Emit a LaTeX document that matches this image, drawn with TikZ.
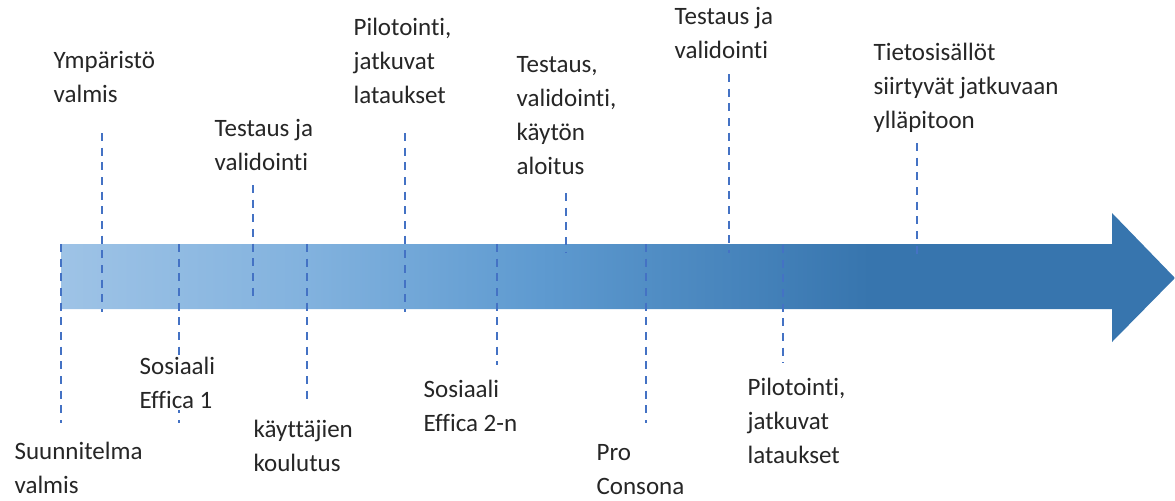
\documentclass[tikz,border=0pt]{standalone}
\usepackage{fontspec}
\setmainfont{Carlito}[Ligatures=NoCommon]
\definecolor{tlLight}{HTML}{9EC3E6}
\definecolor{tlPale}{HTML}{82B2DE}
\definecolor{tlMid}{HTML}{5E9AD0}
\definecolor{tlDark}{HTML}{3775AE}
\definecolor{markblue}{HTML}{4472C4}
\definecolor{textgray}{HTML}{262626}
\pgfdeclarehorizontalshading{timelinefade}{100bp}{color(0bp)=(tlLight); color(25bp)=(tlLight); color(36bp)=(tlPale); color(46.5bp)=(tlMid); color(61.3bp)=(tlDark); color(100bp)=(tlDark)}
\begin{document}
\begin{tikzpicture}[x=0.75pt,y=-0.75pt]
	\tikzset{marker/.style = {draw=markblue, dash pattern=on 6pt off 5pt, line width=0.9pt}}
	\tikzset{milestone/.style = {anchor=base west, align=left, inner sep=1pt, fill=white, text=textgray,
			font=\fontsize{18.75}{25.5}\selectfont}}
	\useasboundingbox (0,0) rectangle (1175,500);
	
	% arrow
	\path[shading=timelinefade, shading angle=0] (61,244) -- (1112,244) -- (1112,213) -- (1175,278)
		-- (1112,342) -- (1112,309) -- (61,309) -- cycle;
	
	% dashed markers
	\foreach \x/\ya/\yb [count=\i] in {61/244/423, 102/133/312, 179/244/423, 253/185/300,
			307/244/405, 405/133/312, 497/244/365, 566/193/253, 646/244/423, 729/74/253,
			783/245/363, 917/143/260} {
		\coordinate (top\i) at (\x,\ya);
		\coordinate (bot\i) at (\x,\yb);
		\draw[marker] (top\i) -- (bot\i);
	}
	
	% labels above (anchored at the baseline of the last line)
	\node[milestone] (ymparisto) at (52,102) {Ympäristö\\valmis};
	\node[milestone] (testaus1) at (213,170) {Testaus ja\\validointi};
	\node[milestone] (pilot1) at (352,103) {Pilotointi,\\jatkuvat\\lataukset};
	\node[milestone] (testaus2) at (515,174) {Testaus,\\validointi,\\käytön\\aloitus};
	\node[milestone] (testaus3) at (673,58) {Testaus ja\\validointi};
	\node[milestone] (tieto) at (872,128) {Tietosisällöt\\siirtyvät jatkuvaan\\ylläpitoon};
	
	% labels below
	\node[milestone] (suunnitelma) at (13,493) {Suunnitelma\\valmis};
	\node[milestone] (effica1) at (138,408) {Sosiaali\\Effica 1};
	\node[milestone] (koulutus) at (252,471) {käyttäjien\\koulutus};
	\node[milestone] (effica2) at (422,431) {Sosiaali\\Effica 2-n};
	\node[milestone] (consona) at (595,494) {Pro\\Consona};
	\node[milestone] (pilot2) at (746,463) {Pilotointi,\\jatkuvat\\lataukset};
\end{tikzpicture}
\end{document}
